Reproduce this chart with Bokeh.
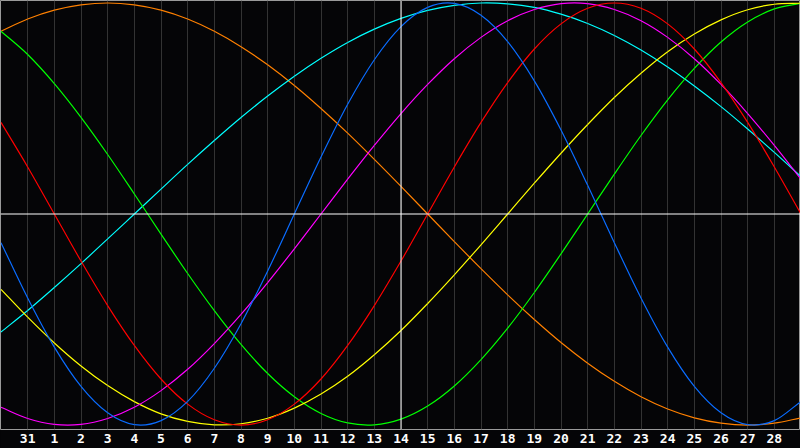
from bokeh.plotting import figure
from bokeh.models import Range1d, FixedTicker
from bokeh.embed import file_html
from bokeh.resources import INLINE

# day offset from the left edge of the chart (0 = 30th of previous month)
day_offset = list(range(31))
tick_days = list(range(1, 30))
day_labels = ["31", "1", "2", "3", "4", "5", "6", "7", "8", "9", "10", "11", "12", "13",
              "14", "15", "16", "17", "18", "19", "20", "21", "22", "23", "24", "25",
              "26", "27", "28"]

# cycle values in percent, one value per day
physical_23 = [-13.6, -39.8, -63.1, -81.7, -94.2, -99.8, -97.9, -88.8, -73.1, -52.0, -27.0,
               0, 27.0, 52.0, 73.1, 88.8, 97.9, 99.8, 94.2, 81.7, 63.1, 39.8, 13.6,
               -13.6, -39.8, -63.1, -81.7, -94.2, -99.8, -97.9, -88.8]
emotional_28 = [43.4, 22.3, 0, -22.3, -43.4, -62.3, -78.2, -90.1, -97.5, -100, -97.5, -90.1,
                -78.2, -62.3, -43.4, -22.3, 0, 22.3, 43.4, 62.3, 78.2, 90.1, 97.5, 100, 97.5,
                90.1, 78.2, 62.3, 43.4, 22.3, 0]
intellectual_33 = [86.6, 75.6, 61.8, 45.8, 28.2, 9.5, -9.5, -28.2, -45.8, -61.8, -75.6, -86.6,
                   -94.5, -99.0, -99.9, -97.2, -91.0, -81.5, -69.0, -54.1, -37.2, -18.9, 0,
                   18.9, 37.2, 54.1, 69.0, 81.5, 91.0, 97.2, 99.9]
intuitive_38 = [-91.6, -96.9, -99.7, -99.7, -96.9, -91.6, -83.7, -73.6, -61.4, -47.6, -32.5,
                -16.5, 0, 16.5, 32.5, 47.6, 61.4, 73.6, 83.7, 91.6, 96.9, 99.7, 99.7, 96.9,
                91.6, 83.7, 73.6, 61.4, 47.6, 32.5, 16.5]
aesthetic_43 = [-35.7, -48.9, -61.1, -72.0, -81.3, -88.9, -94.7, -98.3, -99.9, -99.4, -96.8,
                -92.0, -85.3, -76.9, -66.7, -55.2, -42.4, -28.8, -14.6, 0, 14.6, 28.8, 42.4,
                55.2, 66.7, 76.9, 85.3, 92.0, 96.8, 99.4, 99.9]
awareness_48 = [86.6, 92.4, 96.6, 99.1, 100, 99.1, 96.6, 92.4, 86.6, 79.3, 70.7, 60.9, 50.0,
                38.3, 25.9, 13.1, 0, -13.1, -25.9, -38.3, -50.0, -60.9, -70.7, -79.3, -86.6,
                -92.4, -96.6, -99.1, -100, -99.1, -96.6]
spiritual_53 = [-55.9, -45.7, -34.8, -23.5, -11.8, 0, 11.8, 23.5, 34.8, 45.7, 55.9, 65.3,
                73.8, 81.3, 87.6, 92.7, 96.5, 98.9, 100.0, 99.6, 97.9, 94.7, 90.3, 84.6, 77.7,
                69.7, 60.7, 50.9, 40.3, 29.2, 17.7]
today_offset = 15

series = [
    (awareness_48, "#ff8000"),
    (spiritual_53, "#00ffff"),
    (intellectual_33, "#00ff00"),
    (aesthetic_43, "#ffff00"),
    (intuitive_38, "#ff00ff"),
    (emotional_28, "#ff0000"),
    (physical_23, "#0a6cff"),
]

BG = "#050507"
half_px_x = 0.5 * 30 / 800.0
x_lo, x_hi = -half_px_x, 30 - half_px_x
y_lo, y_hi = -102.12, 101.18

p = figure(width=800, height=448, output_backend="svg", toolbar_location=None,
           x_range=Range1d(x_lo, x_hi), y_range=Range1d(y_lo, y_hi),
           min_border=0, min_border_bottom=19, background_fill_color=BG,
           border_fill_color=BG, outline_line_color="#9a9a9a", outline_line_width=1)

p.yaxis.visible = False
p.ygrid.visible = False
p.xgrid.ticker = FixedTicker(ticks=tick_days)
p.xgrid.grid_line_color = "#333333"
p.xgrid.grid_line_width = 1

ax = p.xaxis[0]
ax.ticker = FixedTicker(ticks=tick_days)
ax.major_label_overrides = {d: lab for d, lab in zip(tick_days, day_labels)}
ax.axis_line_color = None
ax.major_tick_line_color = None
ax.minor_tick_line_color = None
ax.major_tick_out = 0
ax.major_tick_in = 0
ax.major_label_standoff = 4
ax.major_label_text_color = "white"
ax.major_label_text_font = "DejaVu Sans Mono"
ax.major_label_text_font_style = "bold"
ax.major_label_text_font_size = "13px"


def smooth_segments(xs, ys):
    """Catmull-Rom style cubic segments through the given points (drawing only)."""
    n = len(xs)
    px = [2 * xs[0] - xs[1]] + list(xs) + [2 * xs[-1] - xs[-2]]
    py = [2 * ys[0] - ys[1]] + list(ys) + [2 * ys[-1] - ys[-2]]
    seg = dict(x0=[], y0=[], x1=[], y1=[], cx0=[], cy0=[], cx1=[], cy1=[])
    for i in range(n - 1):
        j = i + 1
        seg["x0"].append(px[j]); seg["y0"].append(py[j])
        seg["x1"].append(px[j + 1]); seg["y1"].append(py[j + 1])
        seg["cx0"].append(px[j] + (px[j + 1] - px[j - 1]) / 6.0)
        seg["cy0"].append(py[j] + (py[j + 1] - py[j - 1]) / 6.0)
        seg["cx1"].append(px[j + 1] - (px[j + 2] - px[j]) / 6.0)
        seg["cy1"].append(py[j + 1] - (py[j + 2] - py[j]) / 6.0)
    return seg


for vals, col in series:
    s = smooth_segments(day_offset, vals)
    p.bezier(x0=s["x0"], y0=s["y0"], x1=s["x1"], y1=s["y1"],
             cx0=s["cx0"], cy0=s["cy0"], cx1=s["cx1"], cy1=s["cy1"],
             line_color=col, line_width=1.2)

# today marker and zero line
p.segment(x0=[today_offset], y0=[y_lo], x1=[today_offset], y1=[y_hi],
          line_color="white", line_width=1)
p.segment(x0=[x_lo], y0=[0], x1=[x_hi], y1=[0], line_color="white", line_width=1)

html = file_html(p, INLINE)
html = html.replace("<head>", "<head><style>html,body{margin:0;padding:0;background:%s;overflow:hidden}</style>" % BG, 1)
open("out.html", "w").write(html)
